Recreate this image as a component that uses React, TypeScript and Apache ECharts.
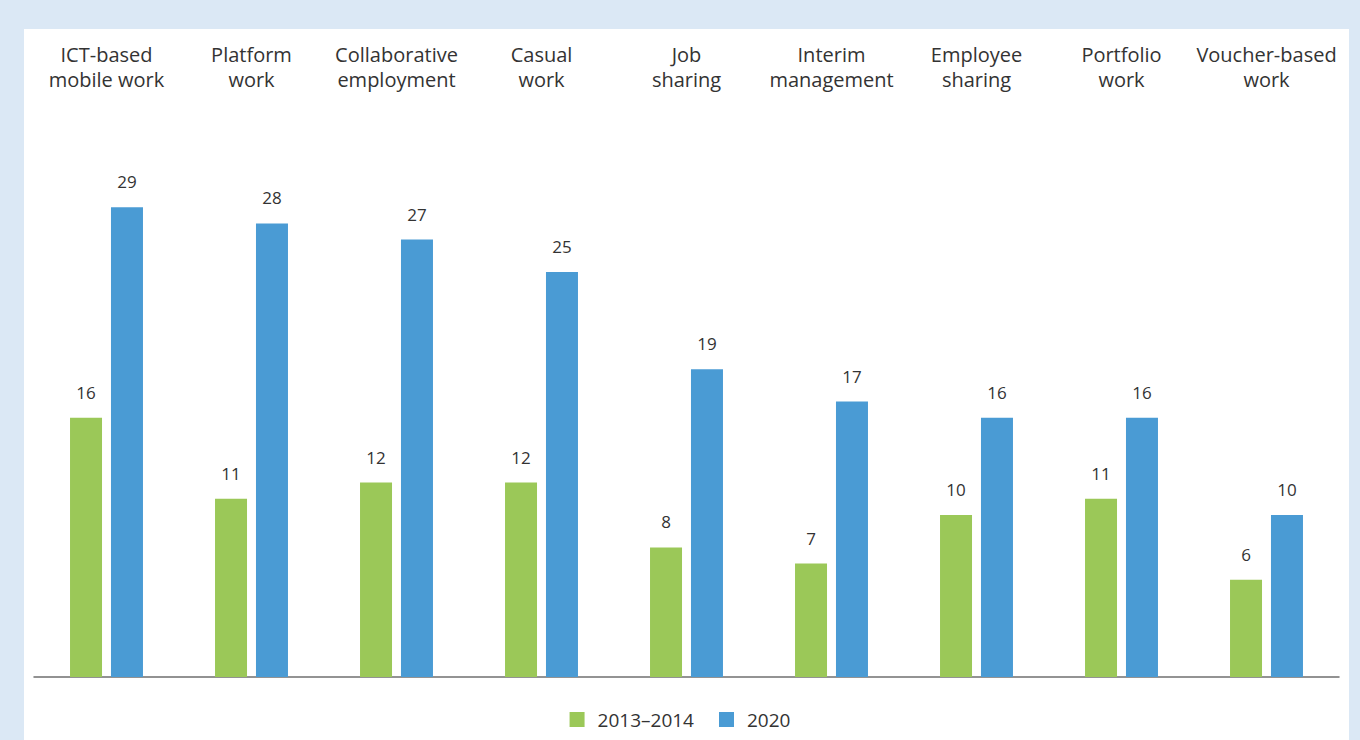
import React, { useEffect, useRef } from "react";
import * as echarts from "echarts";

const categories = [
  "ICT-based\nmobile work",
  "Platform\nwork",
  "Collaborative\nemployment",
  "Casual\nwork",
  "Job\nsharing",
  "Interim\nmanagement",
  "Employee\nsharing",
  "Portfolio\nwork",
  "Voucher-based\nwork",
];
const series2013 = [16, 11, 12, 12, 8, 7, 10, 11, 6];
const series2020 = [29, 28, 27, 25, 19, 17, 16, 16, 10];
const seriesNames = ["2013\u20132014", "2020"];

const FONT = "'Open Sans', 'Noto Sans', sans-serif";

export default function App() {
  const ref = useRef<HTMLDivElement>(null);
  useEffect(() => {
    const chart = echarts.init(ref.current!, null, { renderer: "svg" });
    const labelStyle = {
      show: true,
      position: "top" as const,
      distance: 17,
      color: "#333",
      fontSize: 17,
      fontFamily: FONT,
    };
    const gridTop = 677 - 16.2 * 35;
    chart.setOption({
      animation: false,
      backgroundColor: "#dbe8f5",
      graphic: [
        {
          type: "rect",
          z: -10,
          shape: { x: 24, y: 29, width: 1325, height: 720 },
          style: { fill: "#ffffff" },
        },
      ],
      grid: { left: 34, right: 21, top: gridTop, bottom: 740 - 677 },
      xAxis: [
        {
          type: "category",
          data: categories,
          position: "bottom",
          axisLine: { show: true, lineStyle: { color: "#6f6f6f", width: 1.5 } },
          axisTick: { show: false },
          axisLabel: { show: false },
        },
        {
          type: "category",
          data: categories,
          position: "top",
          offset: gridTop - 100,
          axisLine: { show: false },
          axisTick: { show: false },
          axisLabel: {
            show: true,
            color: "#333",
            fontSize: 20,
            lineHeight: 25,
            fontFamily: FONT,
            interval: 0,
          },
        },
      ],
      yAxis: {
        type: "value",
        min: 0,
        max: 35,
        show: false,
        splitLine: { show: false },
      },
      legend: {
        bottom: 6,
        left: "center",
        itemWidth: 15,
        itemHeight: 15,
        itemGap: 25,
        icon: "rect",
        textStyle: { color: "#333", fontSize: 19, fontFamily: FONT, padding: [0, 0, 0, 8] },
        data: seriesNames,
      },
      series: [
        {
          name: seriesNames[0],
          type: "bar",
          data: series2013,
          barWidth: 32,
          barGap: "28%",
          itemStyle: { color: "#9bc858" },
          label: labelStyle,
        },
        {
          name: seriesNames[1],
          type: "bar",
          data: series2020,
          barWidth: 32,
          barGap: "28%",
          itemStyle: { color: "#4a9bd4" },
          label: labelStyle,
        },
      ],
    });
    return () => chart.dispose();
  }, []);
  return (
    <div
      ref={ref}
      style={{ position: "fixed", left: 0, top: 0, width: 1360, height: 740 }}
    />
  );
}
